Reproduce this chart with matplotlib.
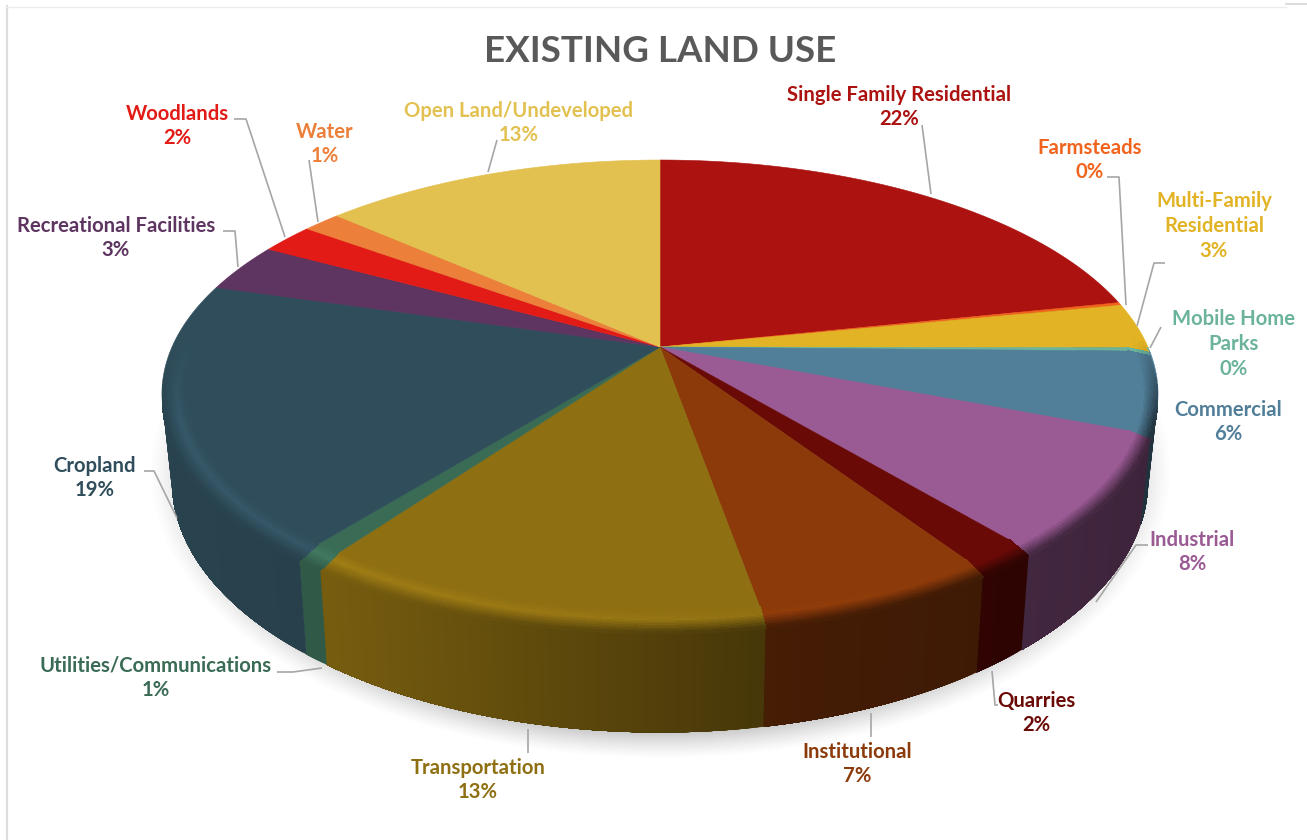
import numpy as np
import matplotlib
matplotlib.use("Agg")
import matplotlib.pyplot as plt
from matplotlib.collections import PolyCollection
from matplotlib.colors import to_rgb
from matplotlib.patches import Polygon

plt.rcParams['font.family'] = ['Lato', 'DejaVu Sans']

# land use shares, clockwise from twelve o'clock
names = ["Single Family Residential", "Farmsteads", "Multi-Family\nResidential",
         "Mobile Home\nParks", "Commercial", "Industrial", "Quarries", "Institutional",
         "Transportation", "Utilities/Communications", "Cropland",
         "Recreational Facilities", "Woodlands", "Water", "Open Land/Undeveloped"]
shares = [21.7, 0.2, 3.15, 0.25, 5.6, 8.05, 1.75, 6.52, 12.7, 0.8, 18.8, 3.4, 2.1, 1.49, 13.49]
colors = ["#AB1210", "#F0641E", "#E2B324", "#6BB39A", "#517E98", "#9A5A94", "#6A0A07", "#8C3A0A",
          "#8E6F12", "#3A6B55", "#2F4D5B", "#5E3460", "#E31B17", "#EC7F3A", "#E3C150"]

# label centres, in pixels
label_x = [899, 1090, 1214, 1234, 1228, 1192, 1036, 857, 478, 156, 95, 116, 177, 325, 519]
label_y = [107, 160, 226, 344, 422, 552, 713, 764, 780, 678, 478, 238, 126, 144, 123]

# leader lines, in pixels
leaders = [
    [(922, 125), (931, 194)],
    [(1107, 177), (1119, 177), (1126, 305)],
    [(1165, 263), (1154, 263), (1137, 326)],
    [(1161, 327), (1150, 348)],
    [],
    [(1148, 545), (1136, 545), (1096, 602)],
    [(992, 671), (995, 705), (998, 705)],
    [(871, 713), (871, 737)],
    [(528, 729), (528, 753)],
    [(277, 672), (293, 672), (322, 668)],
    [(144, 471), (154, 471), (177, 518)],
    [(223, 231), (235, 231), (238, 267)],
    [(234, 119), (246, 119), (285, 237)],
    [(309, 160), (318, 222)],
    [(497, 140), (488, 172)],
]

# camera settings for the tilted disc
CX, CY = 660, 347
DIST = 5.0
SPREAD_X = 2440
SPREAD_Y = 1122
THICK = 420


def project(theta, r=1.0, z=0.0):
    # theta in degrees clockwise from the back of the disc, z is 0 on top and 1 at the base
    t = np.radians(theta)
    x = r * np.sin(t)
    y = r * np.cos(t)
    depth = DIST + y
    sx = CX + SPREAD_X * x * (1 - 0.02 * z) / depth
    sy = CY - SPREAD_Y * y / depth + THICK * z / depth
    return sx, sy


def wall_factor(sx):
    # side wall gets darker towards the right
    return np.interp(sx, [170, 330, 760, 1150], [0.86, 0.83, 0.50, 0.40])


def glow_factor(sx):
    return np.interp(sx, [170, 330, 760, 1000], [1.14, 1.12, 1.03, 1.0])


fig = plt.figure(figsize=(13.07, 8.4), dpi=100)
ax = fig.add_axes([0, 0, 1, 1])
ax.axis('off')

# soft drop shadow under the disc
gx, gy = np.meshgrid(np.arange(0, 1307, 2), np.arange(0, 840, 2))
ell = np.sqrt(((gx - 660) / 512) ** 2 + ((gy - 470) / 288) ** 2)
shadow = np.zeros(gx.shape + (4,))
shadow[..., :3] = 0.3
shadow[..., 3] = 0.42 * np.clip((1.0 - ell) / 0.12, 0, 1) ** 1.3
ax.imshow(shadow, extent=(0, 1307, 840, 0), zorder=1, interpolation='bilinear', aspect='auto')
ax.set_xlim(0, 1307)
ax.set_ylim(840, 0)

fractions = np.array(shares) / np.sum(shares)
edges = np.concatenate([[0], np.cumsum(fractions)]) * 360

STEP = 0.5
BEVEL_R = np.linspace(0.955, 1.0, 15)
BEVEL_Z = np.linspace(0.0, 0.055, 15)

bevel_polys, bevel_cols = [], []
for i, col in enumerate(colors):
    base = np.array(to_rgb(col))
    n = max(int((edges[i + 1] - edges[i]) / STEP), 1)
    angles = np.linspace(edges[i], edges[i + 1], n + 1)

    # side wall, each strip runs on to the end of the slice so no seams show
    base_arc = np.array([project(a, 1, 1) for a in angles])
    rim_arc = np.array([project(a, 1, 0.05) for a in angles])
    for k in range(n):
        outline = np.vstack([rim_arc[k:], base_arc[k:][::-1]])
        shade = base * wall_factor((rim_arc[k, 0] + rim_arc[k + 1, 0]) / 2)
        ax.add_patch(Polygon(outline, closed=True, facecolor=shade, edgecolor='none', zorder=3))

    # top face
    arc = np.array([project(a) for a in angles])
    ax.add_patch(Polygon(np.vstack([[CX, CY], arc]), closed=True, facecolor=col,
                         edgecolor=col, linewidth=0.4, zorder=4))

    # rounded rim between top and wall, front half only
    for a0, a1 in zip(angles[:-1], angles[1:]):
        mid = (a0 + a1) / 2
        front = np.clip((0.05 - np.cos(np.radians(mid))) / 0.35, 0, 1)
        if front <= 0:
            continue
        sx = project(mid)[0]
        wall = base * wall_factor(sx)
        glow = np.clip(base * glow_factor(sx), 0, 1)
        for k in range(len(BEVEL_R) - 1):
            t = (k + 0.5) / (len(BEVEL_R) - 1)
            if t < 0.4:
                c = base + (glow - base) * t / 0.4
            else:
                c = glow + (wall - glow) * (t - 0.4) / 0.6
            c = base + (c - base) * front
            p0 = project(a0, BEVEL_R[k], BEVEL_Z[k])
            p1 = project(a1, BEVEL_R[k], BEVEL_Z[k])
            p2 = project(a1, BEVEL_R[k + 1], BEVEL_Z[k + 1])
            p3 = project(a0, BEVEL_R[k + 1], BEVEL_Z[k + 1])
            bevel_polys.append([p0, p1, p2, p3])
            bevel_cols.append(c)

ax.add_collection(PolyCollection(bevel_polys, facecolors=bevel_cols, edgecolors=bevel_cols,
                                 linewidths=0.6, antialiaseds=False, zorder=5))

# thin frame round the chart area
ax.plot([6.5, 6.5], [840, 6], color="#DEDEDE", lw=1.6, zorder=2)
ax.plot([6, 1286], [7, 7], color="#EDEDED", lw=1.0, zorder=2)
ax.plot([1286, 1307], [4, 4], color="#D4D4D4", lw=1.2, zorder=2)

# leaders and labels
for i, name in enumerate(names):
    pts = leaders[i]
    if pts:
        ax.plot([p[0] for p in pts], [p[1] for p in pts], color="#A6A6A6", lw=1.2,
                solid_capstyle='butt', zorder=6)
    ax.text(label_x[i], label_y[i], f"{name}\n{shares[i]:.0f}%", color=colors[i], fontsize=14.6,
            fontweight='bold', ha='center', va='center', linespacing=1.3, zorder=7)

ax.text(660, 52, "EXISTING LAND USE", color="#595959", fontsize=26.5, fontweight='bold',
        ha='center', va='center', zorder=7)

fig.savefig("out.png", dpi=100)
